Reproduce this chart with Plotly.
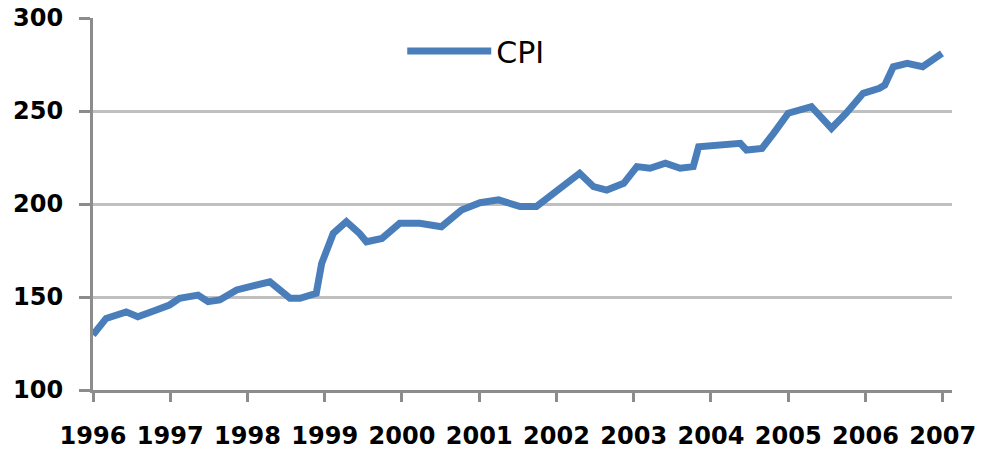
import plotly.graph_objects as go

# Traced CPI series (decimal year, index value)
years = [1996.00, 1996.17, 1996.43, 1996.58, 1996.82, 1996.99, 1997.12, 1997.36,
         1997.49, 1997.64, 1997.86, 1998.12, 1998.29, 1998.55, 1998.68, 1998.89,
         1998.96, 1999.11, 1999.28, 1999.45, 1999.54, 1999.74, 1999.91, 1999.97,
         2000.23, 2000.51, 2000.77, 2001.01, 2001.25, 2001.53, 2001.74, 2001.96,
         2002.13, 2002.30, 2002.48, 2002.65, 2002.87, 2003.04, 2003.21, 2003.41,
         2003.60, 2003.77, 2003.84, 2004.08, 2004.38, 2004.46, 2004.66, 2004.81,
         2005.00, 2005.30, 2005.56, 2005.75, 2005.97, 2006.18, 2006.25, 2006.36,
         2006.54, 2006.74, 2006.88, 2006.99]
cpi = [129.6, 138.5, 142.0, 139.4, 143.0, 145.7, 149.3, 151.0,
       147.5, 148.4, 153.8, 156.5, 158.2, 149.3, 149.3, 152.0,
       168.0, 184.2, 190.5, 184.2, 179.7, 181.5, 187.8, 189.6,
       189.6, 187.8, 196.8, 200.7, 202.2, 198.6, 198.6, 205.8,
       212.0, 216.5, 209.3, 207.5, 211.1, 220.1, 219.2, 221.9,
       219.2, 220.1, 230.8, 231.7, 232.6, 229.0, 229.9, 238.0,
       248.8, 252.3, 240.7, 248.8, 259.5, 262.2, 264.0, 273.8,
       275.6, 273.8, 278.3, 281.0]

tick_years = list(range(1996, 2008))
tick_labels = [str(y) for y in tick_years]
y_ticks = [100, 150, 200, 250, 300]

fig = go.Figure()
fig.add_trace(go.Scatter(
    x=years, y=cpi, mode="lines", name="CPI",
    line=dict(color="#4a7ebb", width=7),
))

axis_font = dict(family="DejaVu Sans", size=24, color="black", weight="bold")

fig.update_layout(
    width=982, height=451,
    margin=dict(l=93, r=30, t=18, b=61),
    paper_bgcolor="white", plot_bgcolor="white",
    showlegend=True,
    legend=dict(
        x=0.36, y=0.911, xanchor="left", yanchor="middle",
        bgcolor="rgba(0,0,0,0)",
        font=dict(family="DejaVu Sans", size=30, color="black"),
        itemwidth=84,
    ),
    xaxis=dict(
        range=[1996, 2007.12], automargin=False,
        tickmode="array", tickvals=tick_years, ticktext=tick_labels,
        showgrid=False, zeroline=False,
        showline=True, linecolor="#8c8c8c", linewidth=3,
        ticks="outside", ticklen=9, tickwidth=3, tickcolor="#8c8c8c",
        tickfont=axis_font, ticklabelstandoff=13, ticklabeloverflow="allow",
    ),
    yaxis=dict(
        range=[100, 300], automargin=False,
        tickmode="array", tickvals=y_ticks,
        showgrid=True, gridcolor="#c0c0c0", gridwidth=3,
        zeroline=False,
        showline=True, linecolor="#8c8c8c", linewidth=3,
        ticks="outside", ticklen=11, tickwidth=3, tickcolor="#8c8c8c",
        tickfont=axis_font, ticklabelstandoff=11, ticklabeloverflow="allow",
    ),
)

# remove the default page margin so the figure fills the window exactly
fig.write_html("out.html",
               config={"displayModeBar": False},
               post_script="document.body.style.margin='0';document.body.style.overflow='hidden';")
